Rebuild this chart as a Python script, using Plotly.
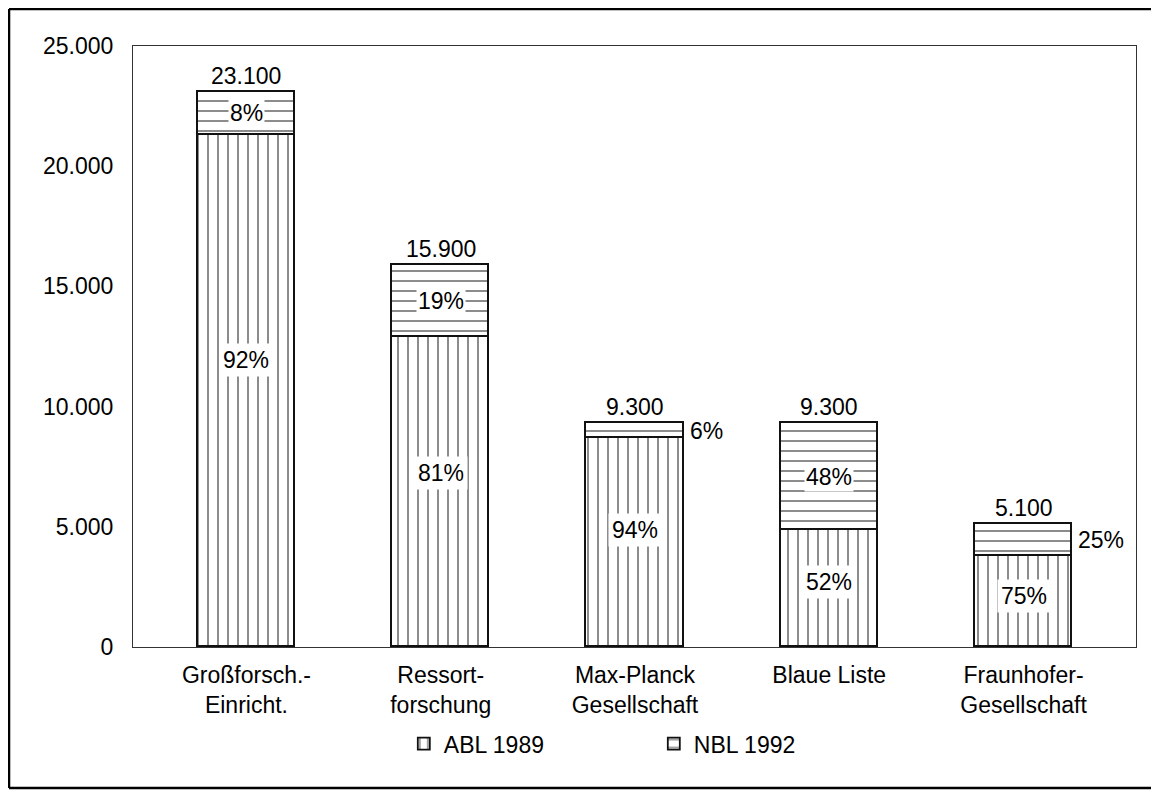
import plotly.graph_objects as go

categories = ["Großforsch.-<br>Einricht.", "Ressort-<br>forschung", "Max-Planck<br>Gesellschaft",
              "Blaue Liste", "Fraunhofer-<br>Gesellschaft"]
abl_1989 = [21300, 12900, 8700, 4850, 3800]
nbl_1992 = [1800, 3000, 600, 4450, 1300]
totals = [23100, 15900, 9300, 9300, 5100]
abl_pct = ["92%", "81%", "94%", "52%", "75%"]
nbl_pct = ["8%", "19%", "6%", "48%", "25%"]
y_ticks = [0, 5000, 10000, 15000, 20000, 25000]

FONT = "Liberation Sans, Arial, sans-serif"
FS = 23

def de(v):
    return f"{v:,}".replace(",", ".")

x = list(range(len(categories)))

fig = go.Figure()
fig.add_trace(go.Bar(
    x=x, y=abl_1989, name="ABL 1989", width=0.5,
    marker=dict(color="white", line=dict(color="#111", width=1.8),
                pattern=dict(shape="|", size=10, solidity=0.18, fgcolor="#000", bgcolor="white", fillmode="overlay")),
))
fig.add_trace(go.Bar(
    x=x, y=nbl_1992, name="NBL 1992", width=0.5,
    marker=dict(color="white", line=dict(color="#111", width=1.8),
                pattern=dict(shape="-", size=10, solidity=0.18, fgcolor="#000", bgcolor="white", fillmode="overlay")),
))

ann = []
for i in x:
    ann.append(dict(x=i, y=totals[i], text=de(totals[i]), showarrow=False,
                    yanchor="bottom", yshift=1, font=dict(size=FS, color="black", family=FONT)))
    ann.append(dict(x=i, y=abl_1989[i] * 0.56, text=abl_pct[i], showarrow=False,
                    bgcolor="white", borderpad=3, font=dict(size=FS, color="black", family=FONT)))
    mid = abl_1989[i] + nbl_1992[i] / 2
    if nbl_1992[i] >= 1500:
        ann.append(dict(x=i, y=mid, text=nbl_pct[i], showarrow=False,
                        bgcolor="white", borderpad=1, font=dict(size=FS, color="black", family=FONT)))
    else:
        ann.append(dict(x=i + 0.25, y=mid, text=nbl_pct[i], showarrow=False, xanchor="left",
                        xshift=4, font=dict(size=FS, color="black", family=FONT)))

frame = dict(xref="paper", yref="paper", line=dict(color="black", width=2.5), layer="above")
x_left, x_right, y_bot, y_top = -0.1236, 1.07, -0.2346, 1.0616

fig.update_layout(
    width=1159, height=790,
    margin=dict(l=125, r=31, t=38, b=151),
    paper_bgcolor="white", plot_bgcolor="white",
    barmode="stack", bargap=0,
    separators=",.",
    font=dict(family=FONT, size=FS, color="black"),
    annotations=ann,
    showlegend=True,
    legend=dict(orientation="h", x=0.27, xanchor="left", y=-0.125, yanchor="top",
                entrywidth=205, entrywidthmode="pixels",
                font=dict(size=FS, family=FONT), traceorder="normal", bgcolor="rgba(0,0,0,0)"),
    shapes=[
        dict(type="line", x0=x_left, x1=x_left, y0=y_bot, y1=y_top, **frame),
        dict(type="line", x0=x_left, x1=x_right, y0=y_top, y1=y_top, **frame),
        dict(type="line", x0=x_left, x1=x_right, y0=y_bot, y1=y_bot, **frame),
    ],
)
fig.update_xaxes(range=[-0.584, 4.579], tickvals=x, ticktext=categories, showgrid=False,
                 showline=True, mirror=True, linecolor="#333", linewidth=1, ticks="", zeroline=False,
                 ticklabelstandoff=7, tickfont=dict(size=FS, family=FONT))
fig.update_yaxes(range=[0, 25000], tickvals=y_ticks, tickformat=",d", showgrid=False,
                 showline=True, mirror=True, linecolor="#333", linewidth=1, ticks="outside",
                 ticklen=14, tickcolor="white", zeroline=False, tickfont=dict(size=FS, family=FONT))

fig.write_html("out.html")
